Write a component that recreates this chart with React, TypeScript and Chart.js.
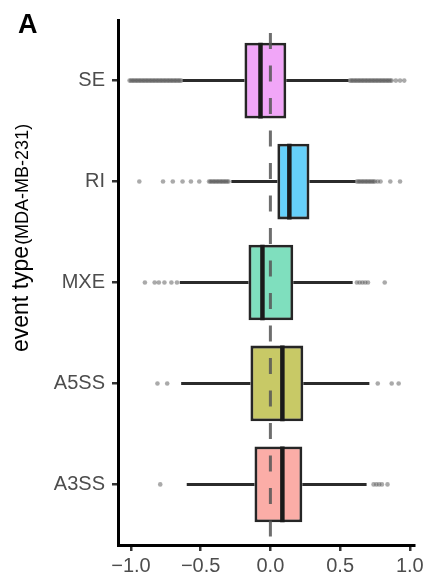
import React, { useEffect, useRef } from "react";
import { Chart, registerables } from "chart.js";

Chart.register(...registerables);

// ---------- data ----------
const categories = ["SE", "RI", "MXE", "A5SS", "A3SS"];
const q1Values = [-0.186, 0.05, -0.157, -0.143, -0.114];
const medianValues = [-0.071, 0.136, -0.057, 0.086, 0.086];
const q3Values = [0.114, 0.28, 0.164, 0.236, 0.229];
const whiskerLowValues = [-0.63, -0.28, -0.65, -0.64, -0.6];
const whiskerHighValues = [0.56, 0.61, 0.59, 0.71, 0.69];

const seOutliers = [
  -1.01, -1.0, -0.99, -0.98, -0.97, -0.96, -0.95, -0.94, -0.93, -0.92, -0.91,
  -0.9, -0.89, -0.88, -0.87, -0.86, -0.85, -0.84, -0.83, -0.82, -0.81, -0.8,
  -0.79, -0.78, -0.77, -0.76, -0.75, -0.74, -0.73, -0.72, -0.71, -0.7, -0.69,
  -0.68, -0.67, -0.66, -0.65, -0.64,
  0.57, 0.58, 0.59, 0.6, 0.61, 0.62, 0.63, 0.64, 0.65, 0.66, 0.67, 0.68, 0.69,
  0.7, 0.71, 0.72, 0.73, 0.74, 0.75, 0.76, 0.77, 0.78, 0.79, 0.8, 0.81, 0.82,
  0.83, 0.84, 0.85, 0.86, 0.87, 0.9, 0.93, 0.96,
];
const riOutliers = [
  -0.94, -0.77, -0.7, -0.63, -0.57, -0.51, -0.44, -0.43, -0.42, -0.41, -0.4,
  -0.39, -0.38, -0.37, -0.36, -0.35, -0.34, -0.33, -0.32, -0.31, -0.3,
  0.62, 0.63, 0.64, 0.65, 0.66, 0.67, 0.68, 0.69, 0.7, 0.71, 0.72, 0.73, 0.74,
  0.75, 0.77, 0.79, 0.86, 0.93,
];
const mxeOutliers = [-0.9, -0.83, -0.8, -0.76, -0.71, -0.67, 0.62, 0.64, 0.66, 0.68, 0.7, 0.82];
const a5ssOutliers = [-0.81, -0.74, 0.77, 0.87, 0.92];
const a3ssOutliers = [-0.79, 0.74, 0.76, 0.78, 0.8, 0.84];
const outlierLists = [seOutliers, riOutliers, mxeOutliers, a5ssOutliers, a3ssOutliers];

const xTickValues = [-1.0, -0.5, 0.0, 0.5, 1.0];
const referenceValue = 0;

const panelLabel = "A";
const yTitleMain = "event type";
const yTitleSub = "(MDA-MB-231)";

// ---------- styles ----------
const boxFills = [
  "rgba(231,107,243,0.6)",
  "rgba(0,176,246,0.6)",
  "rgba(0,191,125,0.5)",
  "rgba(163,165,0,0.6)",
  "rgba(248,118,109,0.6)",
];
const FONT = "'Liberation Sans', Arial, 'DejaVu Sans', sans-serif";
const BOX_WIDTH = 0.75;
const Y_MIN = -0.6;
const Y_MAX = categories.length - 1 + 0.6;
const X_MIN = -1.093;
const X_MAX = 1.03;

const extraTextPlugin = {
  id: "extraText",
  afterDraw(chart: any) {
    const { ctx } = chart;
    ctx.save();
    ctx.fillStyle = "#000";
    ctx.textBaseline = "alphabetic";
    ctx.textAlign = "left";
    ctx.font = `bold 27px ${FONT}`;
    ctx.fillText(panelLabel, 18, 33);
    ctx.translate(28, 352);
    ctx.rotate(-Math.PI / 2);
    ctx.font = `23px ${FONT}`;
    ctx.fillText(yTitleMain, 0, 0);
    const w = ctx.measureText(yTitleMain).width;
    ctx.font = `18px ${FONT}`;
    ctx.fillText(yTitleSub, w + 1, 0);
    ctx.restore();
  },
};

export default function App() {
  const ref = useRef<HTMLCanvasElement>(null);

  useEffect(() => {
    document.body.style.margin = "0";
    const canvas = ref.current;
    if (!canvas) return;

    const half = BOX_WIDTH / 2;
    const datasets: any[] = [];

    datasets.push({
      type: "line",
      data: [
        { x: referenceValue, y: Y_MIN },
        { x: referenceValue, y: Y_MAX },
      ],
      borderColor: "rgba(85,85,85,0.85)",
      borderWidth: 3,
      borderDash: [16, 16.5],
      borderDashOffset: 19.5,
      pointRadius: 0,
      order: 0,
    });

    categories.forEach((_, i) => {
      datasets.push({
        type: "line",
        data: [
          { x: medianValues[i], y: i - half },
          { x: medianValues[i], y: i + half },
        ],
        borderColor: "#1a1a1a",
        borderWidth: 4.5,
        pointRadius: 0,
        order: 1,
      });
    });

    datasets.push({
      type: "bar",
      indexAxis: "y",
      data: categories.map((_, i) => ({ x: [q1Values[i], q3Values[i]], y: i })),
      backgroundColor: boxFills,
      borderColor: "#262626",
      borderWidth: 2.8,
      borderSkipped: false,
      categoryPercentage: 1,
      barPercentage: BOX_WIDTH,
      order: 2,
    });

    categories.forEach((_, i) => {
      datasets.push({
        type: "line",
        data: [
          { x: whiskerLowValues[i], y: i },
          { x: q1Values[i], y: i },
        ],
        borderColor: "#2b2b2b",
        borderWidth: 3,
        pointRadius: 0,
        order: 3,
      });
      datasets.push({
        type: "line",
        data: [
          { x: q3Values[i], y: i },
          { x: whiskerHighValues[i], y: i },
        ],
        borderColor: "#2b2b2b",
        borderWidth: 3,
        pointRadius: 0,
        order: 3,
      });
    });

    categories.forEach((_, i) => {
      datasets.push({
        type: "scatter",
        data: outlierLists[i].map((v) => ({ x: v, y: i })),
        backgroundColor: "rgba(85,85,85,0.5)",
        borderWidth: 0,
        pointRadius: 2.3,
        order: 4,
      });
    });

    const chart = new Chart(canvas, {
      type: "bar",
      data: { datasets },
      plugins: [extraTextPlugin],
      options: {
        animation: false,
        responsive: false,
        maintainAspectRatio: false,
        events: [],
        layout: { padding: { top: 20, right: 13, left: 0, bottom: 0 } },
        plugins: {
          legend: { display: false },
          tooltip: { enabled: false },
          title: { display: false },
        },
        scales: {
          x: {
            type: "linear",
            min: X_MIN,
            max: X_MAX,
            offset: false,
            beginAtZero: false,
            afterBuildTicks: (s: any) => {
              s.ticks = xTickValues.map((v) => ({ value: v }));
            },
            afterFit: (s: any) => {
              s.height = 33;
            },
            ticks: {
              color: "#4D4D4D",
              font: { family: FONT, size: 20 },
              padding: 3,
              callback: (v: any) => Number(v).toFixed(1).replace("-", "\u2212"),
            },
            grid: {
              display: true,
              drawOnChartArea: false,
              drawTicks: true,
              tickLength: 6,
              tickColor: "#333",
              lineWidth: 2.5,
              offset: false,
            },
            border: { display: true, color: "#000", width: 3 },
          },
          y: {
            type: "linear",
            min: Y_MIN,
            max: Y_MAX,
            reverse: true,
            offset: false,
            beginAtZero: false,
            afterBuildTicks: (s: any) => {
              s.ticks = categories.map((_, i) => ({ value: i }));
            },
            afterFit: (s: any) => {
              s.width = 118;
            },
            ticks: {
              color: "#4D4D4D",
              font: { family: FONT, size: 20 },
              padding: 7,
              callback: (v: any) => categories[Math.round(Number(v))] ?? "",
            },
            grid: {
              display: true,
              drawOnChartArea: false,
              drawTicks: true,
              tickLength: 6,
              tickColor: "#333",
              lineWidth: 2.5,
              offset: false,
            },
            border: { display: true, color: "#000", width: 3 },
          },
        },
      } as any,
    });

    return () => chart.destroy();
  }, []);

  return (
    <div style={{ width: 427, height: 578, background: "#fff" }}>
      <canvas ref={ref} width={427} height={578} style={{ display: "block" }} />
    </div>
  );
}
